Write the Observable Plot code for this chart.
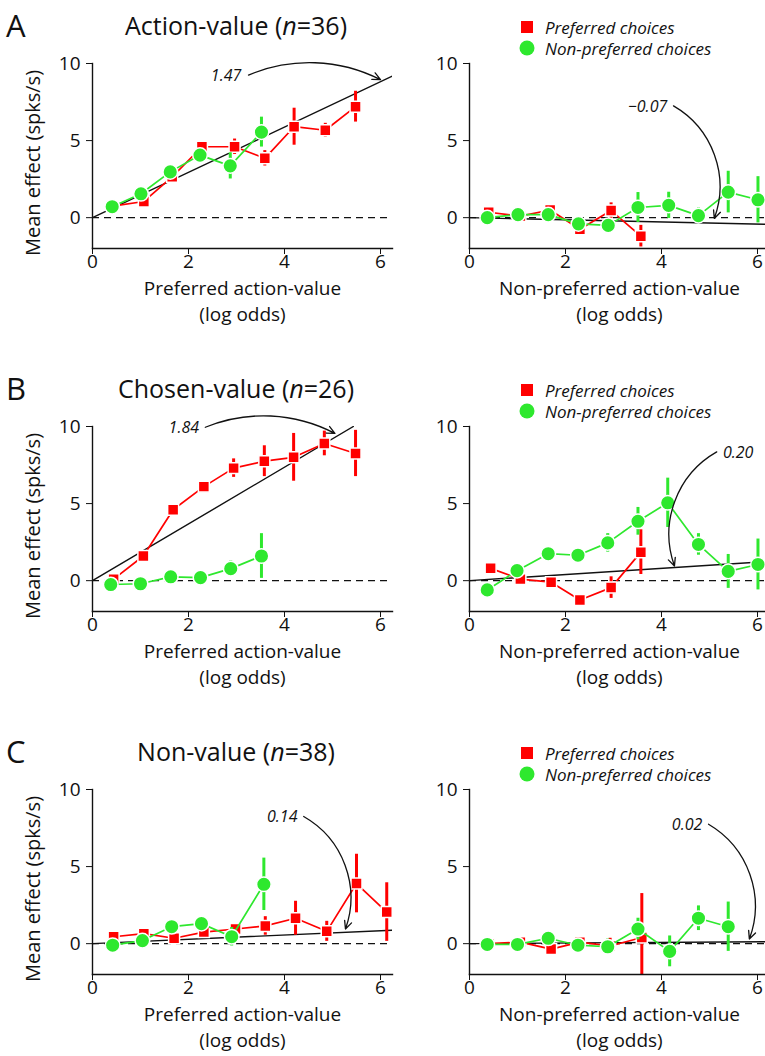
<!DOCTYPE html>
<html><head><meta charset="utf-8">
<script src="https://cdn.jsdelivr.net/npm/d3@7"></script>
<script src="https://cdn.jsdelivr.net/npm/@observablehq/plot@0.6"></script>
<style>
body{margin:0;background:#fff;}
#fig{position:relative;width:765px;height:1056px;overflow:hidden;font-family:'Open Sans',sans-serif;color:#111;background:#fff;}
.panel{position:absolute;width:400px;height:340px;}
.panel svg{max-width:none !important;}
.letter{position:absolute;font-size:31px;left:6px;line-height:1;transform:translateY(-50%);}
.title{position:absolute;font-size:25px;line-height:1;white-space:nowrap;transform:translate(-50%,-50%);}
.leg{position:absolute;font-size:17px;font-style:italic;line-height:1;white-space:nowrap;transform:translateY(-50%);}
.sw{position:absolute;transform:translate(-50%,-50%);}
</style></head><body><div id="fig"></div><script>
// ---------- data ----------
const rowLetters = ["A", "B", "C"];
const rowTitles = ["Action-value", "Chosen-value", "Non-value"];
const rowN = [36, 26, 38];
const xLabels = ["Preferred action-value", "Non-preferred action-value"];
const xUnit = "(log odds)";
const yLabel = "Mean effect (spks/s)";
const legendLabels = ["Preferred choices", "Non-preferred choices"];
const xTicks = [0, 2, 4, 6];
const yTicks = [0, 5, 10];
const slopes = [[1.47, -0.07], [1.84, 0.20], [0.14, 0.02]];
const slopeLabels = [["1.47", "\u22120.07"], ["1.84", "0.20"], ["0.14", "0.02"]];

// [x (log odds), mean effect, error]
const actionPrefRed   = [[0.42,0.75,0.3],[1.07,1.05,0.3],[1.66,2.65,0.3],[2.28,4.6,0.3],[2.96,4.6,0.5],[3.59,3.85,0.5],[4.2,5.9,1.2],[4.85,5.67,0.45],[5.48,7.2,1.0]];
const actionPrefGreen = [[0.41,0.71,0.3],[1.01,1.55,0.3],[1.62,2.97,0.3],[2.24,4.06,0.35],[2.87,3.36,0.85],[3.52,5.55,0.97]];
const actionNonRed    = [[0.4,0.35,0.3],[1.06,0.1,0.3],[1.68,0.5,0.3],[2.3,-0.75,0.3],[2.95,0.46,0.5],[3.57,-1.2,0.7]];
const actionNonGreen  = [[0.37,0,0.3],[1.01,0.2,0.3],[1.64,0.2,0.3],[2.27,-0.4,0.3],[2.89,-0.5,0.3],[3.51,0.66,0.97],[4.15,0.8,0.85],[4.77,0.13,0.5],[5.39,1.66,1.35],[6.01,1.16,1.5]];
const chosenPrefRed   = [[0.44,0.1,0.3],[1.06,1.6,0.3],[1.68,4.6,0.3],[2.32,6.1,0.3],[2.94,7.3,0.6],[3.58,7.75,1.0],[4.19,8.0,1.55],[4.83,8.9,0.8],[5.48,8.25,1.5]];
const chosenPrefGreen = [[0.38,-0.25,0.3],[1.0,-0.2,0.3],[1.63,0.25,0.3],[2.25,0.2,0.3],[2.88,0.78,0.5],[3.52,1.6,1.45]];
const chosenNonRed    = [[0.44,0.8,0.3],[1.06,0.1,0.3],[1.7,-0.1,0.3],[2.3,-1.25,0.3],[2.95,-0.45,0.7],[3.57,1.85,1.45]];
const chosenNonGreen  = [[0.37,-0.6,0.3],[0.99,0.65,0.3],[1.64,1.75,0.3],[2.26,1.65,0.3],[2.88,2.45,0.6],[3.51,3.85,0.9],[4.13,5.05,1.6],[4.77,2.35,0.7],[5.39,0.6,1.1],[6.01,1.05,1.65]];
const nonvalPrefRed   = [[0.44,0.45,0.3],[1.07,0.65,0.3],[1.7,0.35,0.3],[2.32,0.75,0.3],[2.98,0.95,0.3],[3.6,1.15,0.6],[4.23,1.65,1.1],[4.88,0.8,0.65],[5.5,3.9,1.9],[6.13,2.05,1.9]];
const nonvalPrefGreen = [[0.42,-0.1,0.3],[1.04,0.2,0.3],[1.65,1.1,0.3],[2.27,1.3,0.3],[2.9,0.45,0.6],[3.57,3.85,1.7]];
const nonvalNonRed    = [[0.4,0,0.3],[1.06,0.1,0.3],[1.7,-0.35,0.3],[2.3,0.1,0.3],[2.93,-0.15,0.5],[3.59,0.4,2.85]];
const nonvalNonGreen  = [[0.37,-0.05,0.3],[1.0,-0.05,0.3],[1.64,0.35,0.3],[2.26,-0.1,0.3],[2.88,-0.2,0.5],[3.51,0.95,0.7],[4.17,-0.5,1.0],[4.77,1.65,0.8],[5.39,1.1,1.6]];

// annotation: label x, label y, label anchor, arrow start x, y, arrow tip x, y, bend
const annotations = [
  [[3.1, 9.2, "end", 3.25, 9.25, 6.0, 8.95, 25], [4.12, 7.2, "end", 4.25, 7.25, 5.1, -0.05, 40]],
  [[2.22, 9.9, "end", 2.35, 9.95, 5.05, 9.55, 25], [5.28, 8.3, "start", 5.15, 8.35, 4.27, 0.95, -40]],
  [[4.27, 8.2, "end", 4.4, 8.25, 5.27, 0.95, 40], [4.85, 7.7, "end", 4.98, 7.75, 5.83, 0.3, 40]]
];

const panels = [
  [[actionPrefRed, actionPrefGreen], [actionNonRed, actionNonGreen]],
  [[chosenPrefRed, chosenPrefGreen], [chosenNonRed, chosenNonGreen]],
  [[nonvalPrefRed, nonvalPrefGreen], [nonvalNonRed, nonvalNonGreen]]
];

// ---------- drawing ----------
const RED = "#ff0000", GREEN = "#2ee82e", INK = "#111";
const FONT = "'Open Sans', sans-serif";
const xDomain = [0, 6.25], yDomain = [-2, 10];
const fig = document.getElementById("fig");
const rowTop = [0, 363, 726];

function seriesMarks(data, color, symbol, r) {
  return [
    Plot.line(data, {x: d => d[0], y: d => d[1], stroke: color, strokeWidth: 1.7}),
    Plot.ruleX(data, {x: d => d[0], y1: d => d[1] - d[2], y2: d => d[1] + d[2], stroke: color, strokeWidth: 3, clip: true}),
    Plot.dot(data, {x: d => d[0], y: d => d[1], symbol, r, fill: color, stroke: "white", strokeWidth: 1.5})
  ];
}

rowTop.forEach((top, ri) => {
  [0, 1].forEach(ci => {
    const [red, green] = panels[ri][ci];
    const slope = slopes[ri][ci];
    const ann = annotations[ri][ci];
    const xEnd = slope > 0 ? Math.min(xDomain[1], yDomain[1] / slope) : xDomain[1];
    const reg = [{x: 0, y: 0}, {x: xEnd, y: slope * xEnd}];
    const marks = [
      Plot.ruleY([0], {stroke: INK, strokeWidth: 1.4, strokeDasharray: "7,5"}),
      Plot.line(reg, {x: "x", y: "y", stroke: INK, strokeWidth: 1.4, clip: true}),
      ...seriesMarks(red, RED, "square", 6.2),
      ...seriesMarks(green, GREEN, "circle", 7.3),
      Plot.frame({anchor: "left", stroke: INK, strokeWidth: 1.4}),
      Plot.frame({anchor: "bottom", stroke: INK, strokeWidth: 1.4}),
      Plot.axisX({ticks: xTicks, tickSize: 6, tickPadding: 0, tickFormat: d => String(d), fontSize: 19, label: null, stroke: INK}),
      Plot.axisY({ticks: yTicks, tickSize: 6, tickPadding: 6, tickFormat: d => String(d), fontSize: 19, label: null, stroke: INK}),
      Plot.text([xLabels[ci]], {frameAnchor: "bottom", dy: 46, textAnchor: "middle", fontSize: 19, fill: INK}),
      Plot.text([xUnit], {frameAnchor: "bottom", dy: 72, textAnchor: "middle", fontSize: 19, fill: INK}),
      Plot.text([ann], {x: d => d[0], y: d => d[1], text: () => slopeLabels[ri][ci], textAnchor: ann[2], fontStyle: "italic", fontSize: 16, fill: INK}),
      Plot.arrow([ann], {x1: d => d[3], y1: d => d[4], x2: d => d[5], y2: d => d[6], bend: ann[7], stroke: INK, strokeWidth: 1.3, headLength: 10, headAngle: 50})
    ];
    if (ci === 0) marks.push(Plot.text([yLabel], {frameAnchor: "left", textAnchor: "middle", dx: -59, dy: 7, rotate: -90, fontSize: 20, fill: INK}));
    const svg = Plot.plot({
      width: 400, height: 340,
      marginTop: 63, marginBottom: 92, marginLeft: 92, marginRight: 8,
      x: {domain: xDomain, axis: null},
      y: {domain: yDomain, axis: null},
      style: {fontFamily: FONT, fontSize: "19px", color: INK, background: "transparent", overflow: "visible", maxWidth: "none"},
      marks
    });
    svg.style.maxWidth = "none";
    svg.setAttribute("width", 400);
    svg.setAttribute("height", 340);
    const wrap = document.createElement("div");
    wrap.className = "panel";
    wrap.style.left = (ci === 0 ? 0 : 377) + "px";
    wrap.style.top = top + "px";
    wrap.appendChild(svg);
    fig.appendChild(wrap);
  });

  // panel letter and title
  const L = document.createElement("div");
  L.className = "letter"; L.textContent = rowLetters[ri];
  L.style.top = (top + 25) + "px";
  fig.appendChild(L);
  const T = document.createElement("div");
  T.className = "title";
  T.innerHTML = rowTitles[ri] + " (<i>n</i>=" + rowN[ri] + ")";
  T.style.left = "236px"; T.style.top = (top + 25) + "px";
  fig.appendChild(T);

  // legend
  legendLabels.forEach((lab, li) => {
    const cy = top + 27 + li * 21;
    const sw = document.createElement("div");
    sw.className = "sw";
    sw.style.left = "527px"; sw.style.top = cy + "px";
    if (li === 0) { sw.style.width = "12px"; sw.style.height = "12px"; sw.style.background = RED; }
    else { sw.style.width = "15px"; sw.style.height = "15px"; sw.style.borderRadius = "50%"; sw.style.background = GREEN; }
    fig.appendChild(sw);
    const t = document.createElement("div");
    t.className = "leg"; t.textContent = lab;
    t.style.left = "545px"; t.style.top = cy + "px";
    fig.appendChild(t);
  });
});
</script></body></html>
